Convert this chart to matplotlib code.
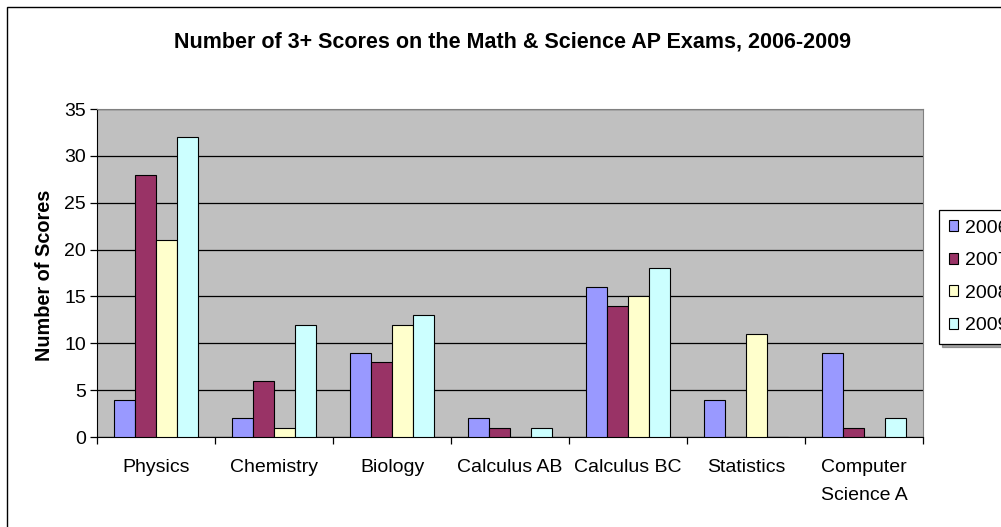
import matplotlib
matplotlib.use("Agg")
import matplotlib.pyplot as plt
import numpy as np
from matplotlib.patches import Rectangle

categories = ["Physics", "Chemistry", "Biology", "Calculus AB", "Calculus BC", "Statistics", "Computer\nScience A"]
years = ["2006", "2007", "2008", "2009"]
v2006 = [4, 2, 9, 2, 16, 4, 9]
v2007 = [28, 6, 8, 1, 14, 0, 1]
v2008 = [21, 1, 12, 0, 15, 11, 0]
v2009 = [32, 12, 13, 1, 18, 0, 2]
series = [v2006, v2007, v2008, v2009]
colors = ["#9999FF", "#993366", "#FFFFCC", "#CCFFFF"]

plt.rcParams['font.family'] = ['Liberation Sans', 'DejaVu Sans']

W, H = 1001, 527
fig = plt.figure(figsize=(W/100, H/100), dpi=100)
fig.patch.set_facecolor("white")

# outer chart border
fig.add_artist(Rectangle((7/W, -0.2), 1.5, (1-7/H)+0.2, transform=fig.transFigure,
                         fill=False, edgecolor="black", linewidth=1.0, clip_on=False))

l, r, t, b = 97, 923, 109, 437
ax = fig.add_axes([l/W, 1-b/H, (r-l)/W, (b-t)/H])
ax.set_facecolor("#C0C0C0")

x = np.arange(len(categories))
bw = 0.178
for i, (vals, c, yr) in enumerate(zip(series, colors, years)):
    ax.bar(x + (i-1.5)*bw, vals, width=bw, color=c, edgecolor="black", linewidth=0.8,
           label=yr, zorder=3)

ax.set_xlim(-0.5, len(categories)-0.5)
ax.set_ylim(0, 35)
ax.set_yticks(range(0, 36, 5))
ax.yaxis.grid(True, color="black", linewidth=0.9, zorder=1)
ax.set_axisbelow(True)

ax.set_xticks(x)
ax.set_xticklabels(categories, fontsize=14, linespacing=1.8)
ax.tick_params(axis='x', which='major', length=0, pad=16)
ax.set_xticks(np.arange(-0.5, len(categories), 1), minor=True)
ax.tick_params(axis='x', which='minor', length=5, direction='out', width=0.9)
ax.tick_params(axis='y', length=5, direction='out', width=0.9, labelsize=14, pad=3)

for s in ["top", "right"]:
    ax.spines[s].set_color("#808080")
ax.spines["left"].set_color("black")
ax.spines["bottom"].set_color("black")

fig.text(45/W, 1-275/H, "Number of Scores", rotation=90, ha="center", va="center",
         fontsize=14.3, fontweight="bold")

fig.text(513/W, 1-42/H, "Number of 3+ Scores on the Math & Science AP Exams, 2006-2009",
         ha="center", va="center", fontsize=15.5, fontweight="bold")

leg = fig.legend(loc="upper left", bbox_to_anchor=(939/W, 1-210/H), fontsize=14,
                 frameon=True, fancybox=False, shadow=True, handlelength=0.5, handleheight=0.5,
                 handletextpad=0.35, labelspacing=0.8, borderpad=0.5, borderaxespad=0)
leg.get_frame().set_edgecolor("black")
leg.get_frame().set_linewidth(0.9)

fig.savefig("out.png", dpi=100)
